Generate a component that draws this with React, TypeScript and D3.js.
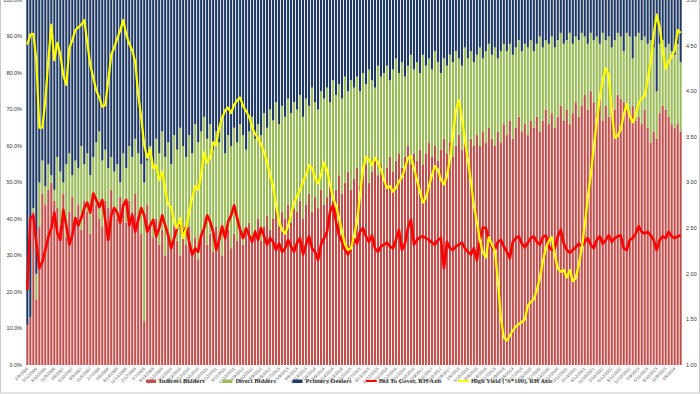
import React from 'react';
import * as d3 from 'd3';

// Auction shares (% of total accepted)
const indirect = [
  11, 13, 42, 18, 38, 47, 44, 48, 50, 45, 43, 38, 47, 35, 42, 46, 40, 44, 37, 45,
  42, 36, 47, 44, 40, 38, 45, 43, 48, 42, 40, 46, 44, 39, 45, 42, 47, 41, 36, 12,
  44, 38, 35, 40, 33, 37, 30, 36, 32, 38, 34, 30, 36, 33, 38, 31, 35, 29, 34, 37,
  33, 36, 31, 38, 34, 30, 35, 37, 32, 36, 34, 38, 33, 36, 39, 35, 37, 40, 34, 38,
  41, 37, 40, 43, 38, 42, 40, 44, 39, 43, 42, 45, 40, 44, 47, 42, 46, 43, 48, 44,
  46, 50, 45, 48, 52, 47, 50, 53, 48, 51, 54, 49, 52, 55, 50, 53, 56, 52, 55, 51,
  54, 57, 53, 56, 58, 54, 57, 60, 55, 58, 56, 59, 55, 58, 61, 57, 60, 56, 59, 62,
  58, 61, 57, 60, 63, 59, 61, 58, 62, 60, 63, 60, 64, 61, 65, 62, 60, 64, 61, 66,
  63, 67, 62, 65, 68, 64, 66, 63, 67, 65, 68, 64, 67, 70, 66, 69, 65, 68, 71, 67,
  70, 66, 69, 72, 68, 71, 74, 70, 75, 72, 69, 73, 67, 71, 68, 72, 70, 74, 73, 72,
  70, 69, 71, 67, 68, 66, 70, 65, 61, 64, 62, 69, 71, 70, 68, 66, 65, 66, 64,
];
const direct = [
  0, 0, 1, 7, 12, 9, 5, 7, 2, 3, 14, 15, 3, 20, 16, 6, 16, 10, 23, 10,
  16, 16, 10, 17, 24, 18, 14, 11, 9, 11, 15, 4, 14, 15, 15, 15, 15, 17, 19, 38,
  12, 22, 19, 22, 25, 27, 27, 25, 23, 25, 25, 35, 24, 24, 25, 27, 31, 32, 30, 31,
  29, 30, 28, 26, 27, 37, 23, 26, 28, 29, 27, 28, 30, 23, 25, 33, 25, 26, 29, 31,
  24, 33, 27, 29, 28, 29, 28, 29, 30, 29, 28, 29, 28, 29, 24, 34, 26, 27, 27, 29,
  30, 22, 33, 26, 25, 26, 29, 22, 30, 25, 25, 26, 28, 22, 31, 25, 20, 30, 24, 29,
  28, 21, 28, 28, 22, 29, 22, 22, 30, 23, 27, 21, 30, 24, 23, 24, 26, 27, 21, 22,
  24, 24, 26, 26, 21, 23, 26, 26, 24, 23, 22, 27, 20, 25, 23, 23, 27, 20, 25, 22,
  23, 21, 23, 22, 21, 22, 22, 24, 22, 21, 20, 26, 20, 19, 22, 21, 22, 21, 20, 21,
  19, 25, 19, 18, 21, 20, 16, 18, 16, 17, 21, 15, 24, 18, 22, 15, 19, 17, 17, 14,
  21, 21, 13, 23, 23, 23, 20, 23, 28, 23, 13, 19, 18, 17, 20, 20, 20, 22, 19,
];
const primary = [
  89, 87, 57, 75, 50, 44, 51, 45, 48, 52, 43, 47, 50, 45, 42, 48, 44, 46, 40, 45,
  42, 48, 43, 39, 36, 44, 41, 46, 43, 47, 45, 50, 42, 46, 40, 43, 38, 42, 45, 50,
  44, 40, 46, 38, 42, 36, 43, 39, 45, 37, 41, 35, 40, 43, 37, 42, 34, 39, 36, 32,
  38, 34, 41, 36, 39, 33, 42, 37, 40, 35, 39, 34, 37, 41, 36, 32, 38, 34, 37, 31,
  35, 30, 33, 28, 34, 29, 32, 27, 31, 28, 30, 26, 32, 27, 29, 24, 28, 30, 25, 27,
  24, 28, 22, 26, 23, 27, 21, 25, 22, 24, 21, 25, 20, 23, 19, 22, 24, 18, 21, 20,
  18, 22, 19, 16, 20, 17, 21, 18, 15, 19, 17, 20, 15, 18, 16, 19, 14, 17, 20, 16,
  18, 15, 17, 14, 16, 18, 13, 16, 14, 17, 15, 13, 16, 14, 12, 15, 13, 16, 14, 12,
  14, 12, 15, 13, 11, 14, 12, 13, 11, 14, 12, 10, 13, 11, 12, 10, 13, 11, 9, 12,
  11, 9, 12, 10, 11, 9, 10, 12, 9, 11, 10, 12, 9, 11, 10, 13, 11, 9, 10, 14,
  9, 10, 16, 10, 9, 11, 10, 12, 11, 13, 25, 12, 11, 13, 12, 14, 15, 12, 17,
];
// Right axis series
const bidToCover = [
  1.82, 2.61, 2.64, 2.34, 2.06, 2.13, 2.26, 2.40, 2.50, 2.67, 2.45, 2.37, 2.70, 2.53, 2.32, 2.42, 2.61, 2.53, 2.61, 2.72,
  2.78, 2.67, 2.88, 2.81, 2.73, 2.81, 2.59, 2.37, 2.64, 2.72, 2.67, 2.56, 2.75, 2.81, 2.53, 2.64, 2.46, 2.59, 2.72, 2.64,
  2.46, 2.53, 2.59, 2.41, 2.50, 2.64, 2.53, 2.42, 2.28, 2.39, 2.50, 2.57, 2.42, 2.52, 2.35, 2.21, 2.28, 2.24, 2.42, 2.50,
  2.64, 2.57, 2.46, 2.26, 2.37, 2.52, 2.39, 2.57, 2.64, 2.75, 2.61, 2.48, 2.39, 2.50, 2.42, 2.35, 2.46, 2.37, 2.50, 2.41,
  2.32, 2.39, 2.35, 2.26, 2.33, 2.24, 2.28, 2.37, 2.30, 2.24, 2.34, 2.39, 2.21, 2.32, 2.41, 2.28, 2.24, 2.15, 2.32, 2.39,
  2.46, 2.68, 2.75, 2.57, 2.42, 2.35, 2.26, 2.21, 2.30, 2.39, 2.33, 2.46, 2.50, 2.41, 2.35, 2.42, 2.28, 2.24, 2.30, 2.32,
  2.34, 2.30, 2.28, 2.37, 2.48, 2.26, 2.33, 2.50, 2.59, 2.32, 2.37, 2.40, 2.41, 2.39, 2.37, 2.34, 2.32, 2.37, 2.39, 2.06,
  2.35, 2.28, 2.26, 2.30, 2.32, 2.34, 2.28, 2.24, 2.21, 2.28, 2.15, 2.37, 2.51, 2.50, 2.37, 2.30, 2.26, 2.35, 2.37, 2.30,
  2.24, 2.17, 2.35, 2.39, 2.41, 2.33, 2.29, 2.34, 2.39, 2.41, 2.35, 2.32, 2.40, 2.42, 2.30, 2.26, 2.28, 2.41, 2.48, 2.33,
  2.26, 2.23, 2.26, 2.29, 2.33, 2.30, 2.35, 2.39, 2.32, 2.28, 2.37, 2.41, 2.33, 2.37, 2.42, 2.35, 2.39, 2.41, 2.42, 2.28,
  2.26, 2.37, 2.39, 2.44, 2.52, 2.46, 2.44, 2.46, 2.42, 2.37, 2.26, 2.37, 2.41, 2.39, 2.46, 2.41, 2.39, 2.41, 2.42,
];
const highYield = [
  4.51, 4.62, 4.63, 4.34, 3.60, 3.60, 3.90, 4.34, 4.73, 4.34, 4.53, 4.40, 4.18, 4.07, 4.47, 4.56, 4.67, 4.70, 4.73, 4.78,
  4.53, 4.29, 4.15, 4.01, 3.93, 3.83, 3.85, 4.12, 4.40, 4.48, 4.58, 4.67, 4.78, 4.62, 4.52, 4.45, 4.32, 3.96, 3.71, 3.41,
  3.27, 3.36, 3.16, 3.19, 3.03, 3.12, 2.92, 2.75, 2.73, 2.57, 2.50, 2.61, 2.39, 2.50, 2.68, 2.83, 2.96, 2.92, 3.08, 3.33,
  3.22, 3.27, 3.44, 3.41, 3.60, 3.71, 3.79, 3.82, 3.76, 3.85, 3.90, 3.93, 3.84, 3.78, 3.72, 3.61, 3.53, 3.48, 3.42, 3.33,
  3.22, 3.08, 2.96, 2.75, 2.57, 2.48, 2.44, 2.52, 2.65, 2.78, 2.85, 2.92, 3.01, 3.08, 3.19, 3.16, 3.05, 2.99, 3.08, 3.22,
  3.14, 2.98, 2.83, 2.75, 2.61, 2.46, 2.32, 2.26, 2.28, 2.41, 2.57, 2.86, 3.14, 3.28, 3.25, 3.19, 3.27, 3.22, 3.14, 3.03,
  2.94, 2.96, 2.90, 2.94, 3.01, 3.06, 3.16, 3.27, 3.29, 3.16, 3.03, 2.90, 2.78, 2.83, 2.96, 3.08, 3.18, 3.14, 3.03, 2.98,
  3.07, 3.25, 3.52, 3.79, 3.90, 3.71, 3.47, 3.25, 3.01, 2.75, 2.57, 2.37, 2.23, 2.18, 2.40, 2.32, 2.26, 1.93, 1.52, 1.30,
  1.27, 1.32, 1.38, 1.42, 1.45, 1.47, 1.50, 1.65, 1.69, 1.72, 1.82, 1.95, 2.13, 2.28, 2.36, 2.40, 2.21, 2.06, 2.02, 2.04,
  1.96, 2.04, 1.92, 1.95, 2.10, 2.28, 2.53, 2.83, 3.08, 3.38, 3.66, 3.93, 4.12, 4.25, 4.18, 3.79, 3.49, 3.51, 3.58, 3.74,
  3.86, 3.73, 3.66, 3.74, 3.87, 3.92, 3.95, 4.12, 4.32, 4.62, 4.84, 4.70, 4.45, 4.25, 4.32, 4.38, 4.45, 4.67, 4.64,
];
// Category labels shown on every third auction
const tickLabels = [
  '2/9/2006', '5/11/2006', '8/10/2006', '11/9/2006', '2/8/2007', '5/10/2007', '8/9/2007', '11/8/2007',
  '2/7/2008', '5/8/2008', '8/14/2008', '11/13/2008', '2/12/2009', '5/7/2009', '8/13/2009', '11/12/2009',
  '2/11/2010', '5/13/2010', '8/12/2010', '11/10/2010', '2/10/2011', '5/12/2011', '8/11/2011', '11/10/2011',
  '2/9/2012', '5/10/2012', '8/9/2012', '11/8/2012', '2/7/2013', '5/9/2013', '8/8/2013', '11/14/2013',
  '2/6/2014', '5/8/2014', '8/14/2014', '11/13/2014', '2/12/2015', '5/7/2015', '8/13/2015', '11/12/2015',
  '2/11/2016', '5/12/2016', '8/11/2016', '11/10/2016', '2/9/2017', '5/11/2017', '8/10/2017', '11/9/2017',
  '2/8/2018', '5/10/2018', '8/9/2018', '11/8/2018', '2/7/2019', '5/9/2019', '8/8/2019', '11/7/2019',
  '2/6/2020', '5/7/2020', '8/13/2020', '11/12/2020', '2/11/2021', '5/13/2021', '8/12/2021', '11/10/2021',
  '2/10/2022', '5/12/2022', '8/11/2022', '11/10/2022', '2/9/2023', '5/11/2023', '8/10/2023', '11/9/2023',
  '2/8/2024',
];

const W = 700;
const H = 394;
const COLORS = { indirect: '#C0504D', direct: '#9BBB59', primary: '#1F3864' };

const legendItems = [
  { label: 'Indirect Bidders', kind: 'bar', color: COLORS.indirect },
  { label: 'Direct Bidders', kind: 'bar', color: COLORS.direct },
  { label: 'Primary Dealers', kind: 'bar', color: COLORS.primary },
  { label: 'Bid To Cover, RH Axis', kind: 'line', color: '#FF0000' },
  { label: 'High Yield (%*100), RH Axis', kind: 'line', color: '#FFFF00' },
];

const App = () => {
  const n = indirect.length;
  const rows = d3.range(n).map(i => ({ i, indirect: indirect[i], direct: direct[i], primary: primary[i] }));

  const x = d3.scaleBand<number>().domain(d3.range(n)).range([26, 682]).paddingInner(0.3).paddingOuter(0.1);
  const yL = d3.scaleLinear().domain([0, 1]).range([365, 0]);
  const yR = d3.scaleLinear().domain([1, 5]).range([365, 0]);

  const series = d3.stack<any>()
    .keys(['indirect', 'direct', 'primary'])
    .offset(d3.stackOffsetExpand)(rows);

  const cx = (i: number) => (x(i) as number) + x.bandwidth() / 2;
  const line = d3.line<number>().x((_, i) => cx(i)).y(d => yR(d));

  const pctFmt = d3.format('.1%');
  const leftTicks = d3.range(0, 11).map(k => k / 10);
  const rightTicks = yR.ticks(8);

  // legend layout, centred under the plot
  const charW = 3.15;
  const itemW = legendItems.map(d => 13 + d.label.length * charW);
  const gap = 13;
  const totalW = d3.sum(itemW) + gap * (legendItems.length - 1);
  let lx = 351 - totalW / 2;
  const legendX = itemW.map(w => { const p = lx; lx += w + gap; return p; });

  return (
    <svg width={W} height={H} style={{ position: 'absolute', left: 0, top: 0, background: '#fff' }}
      fontFamily="Arial, 'Liberation Sans', sans-serif">
      <rect x={0.5} y={-1} width={W - 1} height={H} fill="none" stroke="#c8c8c8" />

      {series.map(s => (
        <g key={s.key} fill={COLORS[s.key as keyof typeof COLORS]}>
          {s.map((d, i) => (
            <rect key={i} x={x(i)} width={x.bandwidth()} y={yL(d[1])} height={yL(d[0]) - yL(d[1])} />
          ))}
        </g>
      ))}

      <path d={line(bidToCover) || ''} fill="none" stroke="#FF0000" strokeWidth={2.6} strokeLinejoin="round" />
      <path d={line(highYield) || ''} fill="none" stroke="#FFFF00" strokeWidth={2.2} strokeLinejoin="round" />

      {leftTicks.map(t => (
        <text key={t} x={22} y={yL(t)} dy="0.35em" textAnchor="end" fontSize={5.5} fill="#333">{pctFmt(t)}</text>
      ))}
      {rightTicks.map(t => (
        <text key={t} x={686} y={yR(t)} dy="0.35em" textAnchor="start" fontSize={5.5} fill="#333">{t.toFixed(2)}</text>
      ))}

      {tickLabels.map((lab, k) => {
        const px = cx(k * 3);
        return (
          <text key={lab} transform={`translate(${px + 1},369) rotate(-45)`} textAnchor="end"
            fontSize={4.3} fill="#555">{lab}</text>
        );
      })}

      <g fontFamily="'Liberation Serif', 'Times New Roman', serif" fontWeight="bold" fontSize={6.5} fill="#333">
        {legendItems.map((d, k) => (
          <g key={d.label} transform={`translate(${legendX[k]},381)`}>
            {d.kind === 'bar'
              ? <rect x={0} y={-1.5} width={10} height={3.5} fill={d.color} />
              : <line x1={0} x2={11} y1={0} y2={0} stroke={d.color} strokeWidth={2} />}
            <text x={13} y={0} dy="0.35em">{d.label}</text>
          </g>
        ))}
      </g>
    </svg>
  );
};

export default App;
